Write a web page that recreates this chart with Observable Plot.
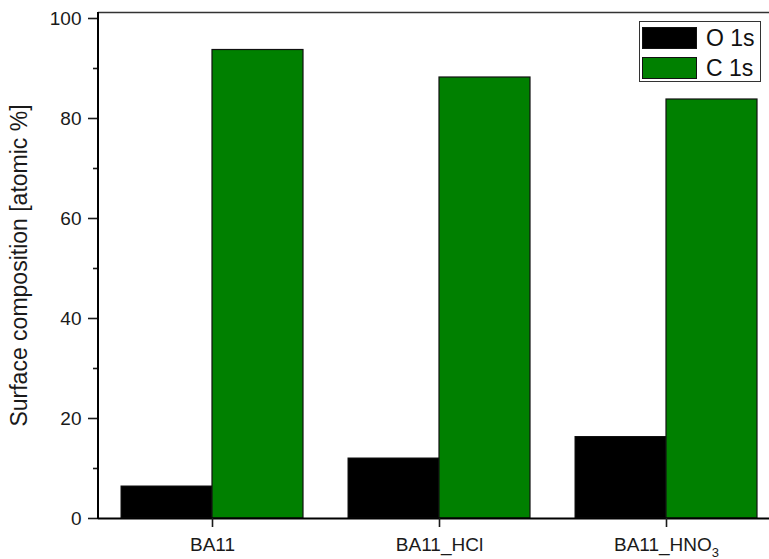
<!DOCTYPE html>
<html>
<head>
<meta charset="utf-8">
<script src="https://cdn.jsdelivr.net/npm/d3@7"></script>
<script src="https://cdn.jsdelivr.net/npm/@observablehq/plot@0.6"></script>
<style>
  html, body { margin: 0; padding: 0; background: #fff; }
  #wrap { position: relative; width: 769px; height: 559px; overflow: hidden; }
  .legend { position: absolute; border: 1px solid #333; background: #fff; box-sizing: border-box;
            font-family: "Liberation Sans", Arial, sans-serif; font-size: 23px; color: #111; }
  .legend .row { position: absolute; display: flex; align-items: center; }
  .legend .sw { display: inline-block; box-sizing: border-box; border: 1px solid #111; }
</style>
</head>
<body>
<div id="wrap"></div>
<script>
const categories = ["BA11", "BA11_HCl", "BA11_HNO3"];
const series = ["O 1s", "C 1s"];
const o1s = [6.4, 12.0, 16.3];
const c1s = [93.7, 88.2, 83.8];
const colors = ["#000000", "#008000"];
const yTicks = [0, 20, 40, 60, 80, 100];
const yMinor = [10, 30, 50, 70, 90];
const yMax = 101.2;
const yLabel = "Surface composition [atomic %]";

const data = categories.flatMap((c, i) => [
  {cat: c, s: series[0], v: o1s[i]},
  {cat: c, s: series[1], v: c1s[i]}
]);

const W = 769, H = 559, ML = 98, MT = 12, MB = 41;
const xRange = [ML, 780.5];
const padIn = 0.2, padOut = 0.1;
const step = (xRange[1] - xRange[0]) / (categories.length - padIn + 2 * padOut);
const half = step * (1 - padIn) / 2;

const font = "'Liberation Sans', Arial, sans-serif";
const fs = 19;
const labelFs = 23;

const chart = Plot.plot({
  width: W, height: H,
  marginLeft: ML, marginTop: MT, marginBottom: MB, marginRight: 0,
  style: {fontFamily: font, fontSize: fs + "px", color: "#1a1a1a", background: "#fff"},
  x: {domain: categories, range: xRange, paddingInner: padIn, paddingOuter: padOut, axis: null, label: null},
  y: {domain: [0, yMax], axis: null},
  marks: [
    Plot.barY(data.filter(d => d.s === series[0]), {x: "cat", y: "v", fill: colors[0], stroke: "#111", strokeWidth: 1, insetRight: half}),
    Plot.barY(data.filter(d => d.s === series[1]), {x: "cat", y: "v", fill: colors[1], stroke: "#111", strokeWidth: 1.2, insetLeft: half}),
    Plot.ruleY([yMax], {stroke: "#333", strokeWidth: 1.5}),
    Plot.ruleY([0], {stroke: "#000", strokeWidth: 2}),
    Plot.axisY({ticks: yTicks, tickSize: 10, tickPadding: 7, strokeWidth: 1.6,
      label: yLabel, labelAnchor: "center", labelArrow: "none", labelOffset: 88}),
    Plot.axisY({ticks: yMinor, tickSize: 5, tickFormat: () => "", strokeWidth: 1.6, label: null}),
    Plot.axisX({tickSize: 9, tickPadding: 10, strokeWidth: 1.6, label: null})
  ]
});

const svg = d3.select(chart);
// left axis line via the chart's own scales
const ys = chart.scale("y"), xs = chart.scale("x");
svg.append("line")
  .attr("x1", xs.range[0]).attr("x2", xs.range[0])
  .attr("y1", ys.apply(0) + 1).attr("y2", ys.apply(yMax))
  .attr("stroke", "#000").attr("stroke-width", 2);

// font sizes
svg.selectAll("g").each(function() {
  if (this.getAttribute("font-size")) this.setAttribute("font-size", fs);
});
svg.selectAll("text").attr("font-size", fs).attr("font-family", font);
svg.selectAll("text").filter(function() { return this.textContent === yLabel; })
  .attr("font-size", labelFs);
svg.selectAll("text").each(function() {
  if (this.textContent === "BA11_HNO3") {
    const t = d3.select(this);
    t.text("BA11_HNO");
    t.append("tspan").attr("font-size", "13px").attr("dy", "6").text("3");
  }
});

const wrap = document.getElementById("wrap");
wrap.appendChild(chart);

// legend
const lg = document.createElement("div");
lg.className = "legend";
Object.assign(lg.style, {left: "639px", top: "21px", width: "122px", height: "61px"});
series.forEach((s, i) => {
  const row = document.createElement("div");
  row.className = "row";
  Object.assign(row.style, {left: "2px", top: (5 + i * 30) + "px", height: "22px"});
  const sw = document.createElement("span");
  sw.className = "sw";
  Object.assign(sw.style, {width: "55px", height: "22px", background: colors[i]});
  const tx = document.createElement("span");
  tx.textContent = s;
  tx.style.marginLeft = "9px";
  row.appendChild(sw); row.appendChild(tx);
  lg.appendChild(row);
});
wrap.appendChild(lg);
</script>
</body>
</html>
